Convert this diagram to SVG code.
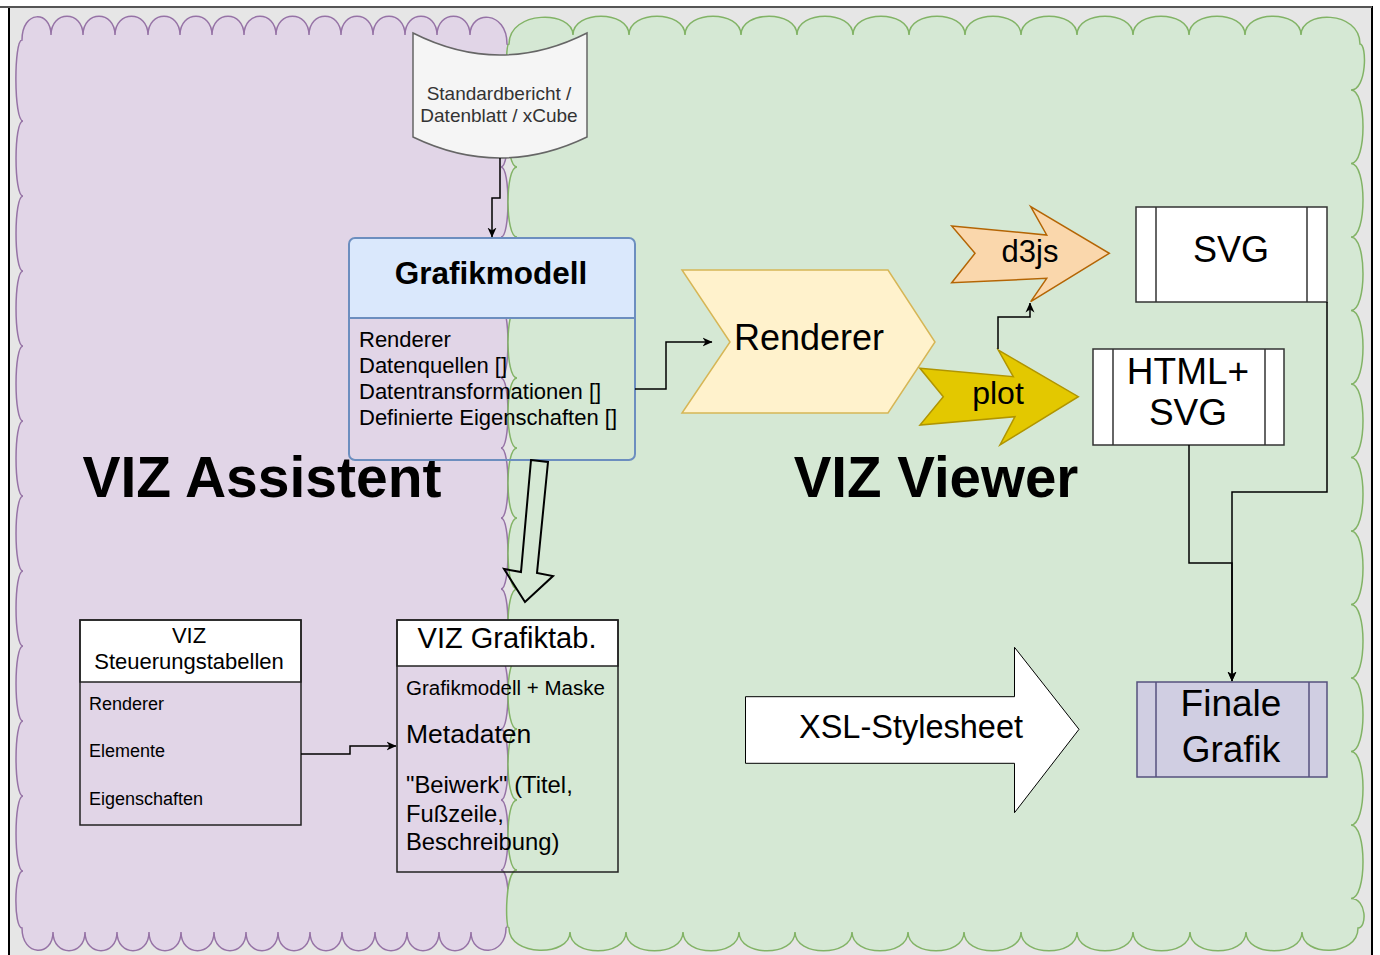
<svg xmlns="http://www.w3.org/2000/svg" width="1380" height="955" viewBox="0 0 1380 955">
<defs>
<marker id="arr" viewBox="0 0 10 10" refX="9.5" refY="5" markerWidth="10" markerHeight="10" markerUnits="userSpaceOnUse" orient="auto">
<path d="M0,0.5 L10,5 L0,9.5 L3,5 Z" fill="#000"/>
</marker>
<style>
text{font-family:"Liberation Sans",Arial,Helvetica,sans-serif;fill:#000;}
.conn{fill:none;stroke:#000;stroke-width:1.5;}
.box{fill:none;stroke:#222;stroke-width:1.5;}
.hdr{fill:#fff;stroke:#222;stroke-width:1.5;}
.proc{fill:#fff;stroke:#333;stroke-width:1.5;}
.mid{text-anchor:middle;}
</style>
</defs>

<g id="frame">
<rect x="9" y="7" width="1363" height="960" fill="#e6e6e6" stroke="#000" stroke-width="2"/>
<line x1="0" y1="7" x2="1372" y2="7" stroke="#555" stroke-width="2"/>
</g>

<g id="cloud-assistent">
<path fill="#e1d5e7" stroke="#9673a6" stroke-width="1.5" d="M22,40 C22,10 51,10 51,35 C51,10 83,10 83,35 C83,10 115,10 115,35 C115,10 148,10 148,35 C148,10 180,10 180,35 C180,10 212,10 212,35 C212,10 244,10 244,35 C244,10 276,10 276,35 C276,10 309,10 309,35 C309,10 341,10 341,35 C341,10 373,10 373,35 C373,10 405,10 405,35 C405,10 437,10 437,35 C437,10 470,10 470,35 C470,10 507,10 507,44
C510.3,44 510.3,96 501,96 C510.3,96 510.3,167 501,167 C510.3,167 510.3,237 501,237 C510.3,237 510.3,307 501,307 C510.3,307 510.3,378 501,378 C510.3,378 510.3,448 501,448 C510.3,448 510.3,518 501,518 C510.3,518 510.3,589 501,589 C510.3,589 510.3,659 501,659 C510.3,659 510.3,729 501,729 C510.3,729 510.3,800 501,800 C510.3,800 510.3,870 501,870 C510.3,870 510.3,928 506,928
C506,957 471,957 471,932 C471,957 439,957 439,932 C439,957 407,957 407,932 C407,957 375,957 375,932 C375,957 342,957 342,932 C342,957 310,957 310,932 C310,957 278,957 278,932 C278,957 246,957 246,932 C246,957 214,957 214,932 C214,957 181,957 181,932 C181,957 149,957 149,932 C149,957 117,957 117,932 C117,957 85,957 85,932 C85,957 53,957 53,932 C53,957 22,957 22,928
C13.7,928 13.7,871 23,871 C13.7,871 13.7,796 23,796 C13.7,796 13.7,721 23,721 C13.7,721 13.7,646 23,646 C13.7,646 13.7,571 23,571 C13.7,571 13.7,496 23,496 C13.7,496 13.7,421 23,421 C13.7,421 13.7,346 23,346 C13.7,346 13.7,271 23,271 C13.7,271 13.7,196 23,196 C13.7,196 13.7,121 23,121 C13.7,121 13.7,40 22,40 Z"/>
</g>

<g id="cloud-viewer">
<path fill="#d5e8d4" stroke="#82b366" stroke-width="1.5" d="M509,44 C509,10 573,10 573,35 C573,10 629,10 629,35 C629,10 685,10 685,35 C685,10 741,10 741,35 C741,10 797,10 797,35 C797,10 853,10 853,35 C853,10 909,10 909,35 C909,10 965,10 965,35 C965,10 1021,10 1021,35 C1021,10 1077,10 1077,35 C1077,10 1133,10 1133,35 C1133,10 1189,10 1189,35 C1189,10 1245,10 1245,35 C1245,10 1301,10 1301,35 C1301,10 1360,10 1360,44
C1367,44 1367,90 1351,90 C1367,90 1367,163.5 1351,163.5 C1367,163.5 1367,237 1351,237 C1367,237 1367,310.5 1351,310.5 C1367,310.5 1367,384 1351,384 C1367,384 1367,457.5 1351,457.5 C1367,457.5 1367,531 1351,531 C1367,531 1367,604.5 1351,604.5 C1367,604.5 1367,678 1351,678 C1367,678 1367,751.5 1351,751.5 C1367,751.5 1367,825 1351,825 C1367,825 1367,898.5 1351,898.5 C1367,898.5 1367,928 1358,928
C1358,957 1302,957 1302,932 C1302,957 1246,957 1246,932 C1246,957 1190,957 1190,932 C1190,957 1133,957 1133,932 C1133,957 1077,957 1077,932 C1077,957 1021,957 1021,932 C1021,957 964,957 964,932 C964,957 908,957 908,932 C908,957 852,957 852,932 C852,957 795,957 795,932 C795,957 739,957 739,932 C739,957 683,957 683,932 C683,957 626,957 626,932 C626,957 570,957 570,932 C570,957 509,957 509,928
C505,928 505,870 517,870 C505,870 505,800 517,800 C505,800 505,729 517,729 C505,729 505,659 517,659 C505,659 505,589 517,589 C505,589 505,518 517,518 C505,518 505,448 517,448 C505,448 505,378 517,378 C505,378 505,307 517,307 C505,307 505,237 517,237 C505,237 505,167 517,167 C505,167 505,96 517,96 C505,96 505,44 509,44 Z"/>
</g>

<g id="labels">
<text x="262" y="497" class="mid" font-size="57" font-weight="bold">VIZ Assistent</text>
<text x="936" y="497" class="mid" font-size="56.5" font-weight="bold">VIZ Viewer</text>
</g>

<g id="standardbericht">
<path d="M413,33 Q500,77 587,33 L587,137 Q500,179 413,137 Z" fill="#f5f5f5" stroke="#666" stroke-width="1.5"/>
<text x="499" y="100" class="mid" font-size="19" style="fill:#333">Standardbericht /</text>
<text x="499" y="122" class="mid" font-size="19" style="fill:#333">Datenblatt / xCube</text>
</g>

<g id="grafikmodell">
<path d="M349,244 a6,6 0 0 1 6,-6 H629 a6,6 0 0 1 6,6 V318 H349 Z" fill="#dae8fc"/>
<rect x="349" y="238" width="286" height="222" rx="6" fill="none" stroke="#6c8ebf" stroke-width="2"/>
<line x1="349" y1="318" x2="635" y2="318" stroke="#6c8ebf" stroke-width="2"/>
<text x="491" y="284" class="mid" font-size="31.5" font-weight="bold">Grafikmodell</text>
<text x="359" y="347" font-size="22">Renderer</text>
<text x="359" y="373" font-size="22">Datenquellen []</text>
<text x="359" y="399" font-size="22">Datentransformationen []</text>
<text x="359" y="425" font-size="22">Definierte Eigenschaften []</text>
</g>

<g id="renderer">
<polygon points="682,270 888,270 935,342 888,413 682,413 730,342" fill="#fff2cc" stroke="#d6b656" stroke-width="1.5"/>
<text x="809" y="350" class="mid" font-size="36">Renderer</text>
</g>

<g id="d3js">
<polygon points="951.7,226 1046.7,235 1030.7,206.7 1109.3,253.3 1030.7,301.7 1046.7,278.3 951.7,282.7 975,253.3" fill="#fad7ac" stroke="#b46504" stroke-width="1.5"/>
<text x="1030" y="262" class="mid" font-size="31">d3js</text>
</g>

<g id="plot">
<polygon points="920,368.3 1013.3,376.7 998.3,350 1078.3,396.7 1000,445 1015,416.7 920,425 943.3,396.7" fill="#e3c800" stroke="#b09500" stroke-width="1.5"/>
<text x="998" y="404" class="mid" font-size="32">plot</text>
</g>

<g id="svg">
<rect x="1136" y="207" width="191" height="95" class="proc"/>
<line x1="1156" y1="207" x2="1156" y2="302" stroke="#333" stroke-width="1.5"/>
<line x1="1307" y1="207" x2="1307" y2="302" stroke="#333" stroke-width="1.5"/>
<text x="1231" y="262" class="mid" font-size="36">SVG</text>
</g>

<g id="htmlsvg">
<rect x="1093" y="349" width="191" height="96" class="proc"/>
<line x1="1113" y1="349" x2="1113" y2="445" stroke="#333" stroke-width="1.5"/>
<line x1="1265" y1="349" x2="1265" y2="445" stroke="#333" stroke-width="1.5"/>
<text x="1188" y="384" class="mid" font-size="37">HTML+</text>
<text x="1188" y="425" class="mid" font-size="37">SVG</text>
</g>

<g id="finale">
<rect x="1137" y="682" width="190" height="95" fill="#d0cee2" stroke="#56517e" stroke-width="1.5"/>
<line x1="1156" y1="682" x2="1156" y2="777" stroke="#56517e" stroke-width="1.5"/>
<line x1="1309" y1="682" x2="1309" y2="777" stroke="#56517e" stroke-width="1.5"/>
<text x="1231" y="716" class="mid" font-size="37">Finale</text>
<text x="1231" y="762" class="mid" font-size="37">Grafik</text>
</g>

<g id="xsl">
<polygon points="745.5,696.7 1014.5,696.7 1014.5,647.3 1079,729.3 1014.5,812.7 1014.5,763.3 745.5,763.3" fill="#fff" stroke="#000" stroke-width="1"/>
<text x="911" y="738" class="mid" font-size="32.5">XSL-Stylesheet</text>
</g>

<g id="steuerung">
<rect x="80" y="620" width="221" height="62" class="hdr"/>
<rect x="80" y="620" width="221" height="205" class="box"/>
<text x="189" y="643" class="mid" font-size="22">VIZ</text>
<text x="189" y="669" class="mid" font-size="22">Steuerungstabellen</text>
<text x="89" y="710" font-size="18">Renderer</text>
<text x="89" y="757" font-size="18">Elemente</text>
<text x="89" y="805" font-size="18">Eigenschaften</text>
</g>

<g id="grafiktab">
<rect x="397" y="620" width="221" height="46" class="hdr"/>
<rect x="397" y="620" width="221" height="252" class="box"/>
<text x="507" y="648" class="mid" font-size="29">VIZ Grafiktab.</text>
<text x="406" y="695" font-size="20.5">Grafikmodell + Maske</text>
<text x="406" y="743" font-size="26.5">Metadaten</text>
<text x="406" y="793" font-size="23.8">"Beiwerk" (Titel,</text>
<text x="406" y="822" font-size="23.8">Fußzeile,</text>
<text x="406" y="850" font-size="23.8">Beschreibung)</text>
</g>

<g id="connectors">
<path class="conn" d="M500,158 V198 H492 V237" marker-end="url(#arr)"/>
<path class="conn" d="M635,389 H666 V342 H712" marker-end="url(#arr)"/>
<path class="conn" d="M301,754 H350 V746 H396" marker-end="url(#arr)"/>
<path class="conn" d="M998,349 V317 H1030 V303" marker-end="url(#arr)"/>
<path class="conn" d="M1327,302 V492 H1232 V681" marker-end="url(#arr)"/>
<path class="conn" d="M1189,445 V563 H1232 V681" marker-end="url(#arr)"/>
<polygon points="531,460 548,462 537,573 553,576 525,602 504,569 521,572" fill="none" stroke="#000" stroke-width="2"/>
</g>
</svg>
